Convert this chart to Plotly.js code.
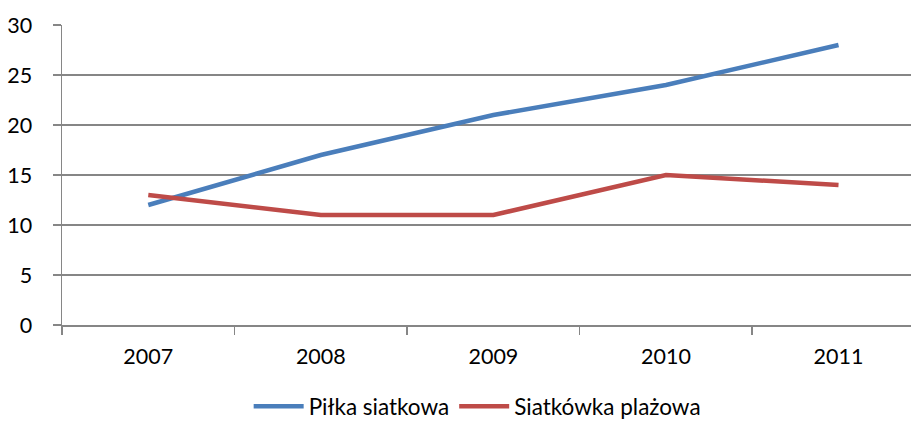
<!DOCTYPE html>
<html>
<head>
<meta charset="utf-8">
<script src="https://cdn.plot.ly/plotly-3.0.1.min.js"></script>
<style>html,body{margin:0;padding:0;background:#fff;}#chart{width:911px;height:428px;}</style>
</head>
<body>
<div id="chart"></div>
<script>
const years = ["2007", "2008", "2009", "2010", "2011"];
const pilkaSiatkowa = [12, 17, 21, 24, 28];
const siatkowkaPlazowa = [13, 11, 11, 15, 14];
const seriesNames = ["Piłka siatkowa", "Siatkówka plażowa"];

const font = "Lato, 'Open Sans', sans-serif";
const data = [
  {x: years, y: pilkaSiatkowa, name: seriesNames[0], type: "scatter", mode: "lines",
   line: {color: "#4a7ebb", width: 4.5}},
  {x: years, y: siatkowkaPlazowa, name: seriesNames[1], type: "scatter", mode: "lines",
   line: {color: "#be4b48", width: 4.5}}
];
const layout = {
  width: 911, height: 428,
  margin: {l: 62, r: 0, t: 25, b: 102},
  paper_bgcolor: "#fff", plot_bgcolor: "#fff",
  font: {family: font, color: "#000", size: 21},
  showlegend: true,
  legend: {orientation: "h", x: 0.489, xanchor: "center", y: -0.272, yanchor: "middle",
           font: {family: font, size: 22.5, color: "#000"}, itemwidth: 50, tracegroupgap: 0},
  xaxis: {type: "category", range: [-0.5, 4.42], tickson: "boundaries",
          ticks: "outside", ticklen: 8, tickcolor: "#868686", tickwidth: 1.5,
          showline: true, linecolor: "#868686", linewidth: 1.5,
          showgrid: false, zeroline: false, fixedrange: true,
          ticklabelstandoff: 12, tickfont: {family: font, size: 21.5}},
  yaxis: {range: [0, 30], dtick: 5, tick0: 0, ticks: "outside", ticklen: 8,
          tickcolor: "#868686", tickwidth: 1.5, showline: true, linecolor: "#868686", linewidth: 1.5,
          showgrid: true, gridcolor: "#868686", gridwidth: 1.5, zeroline: false,
          ticklabelstandoff: 16, tickfont: {family: font, size: 21.5}}
};
Plotly.newPlot("chart", data, layout, {displayModeBar: false, staticPlot: true});
</script>
</body>
</html>
